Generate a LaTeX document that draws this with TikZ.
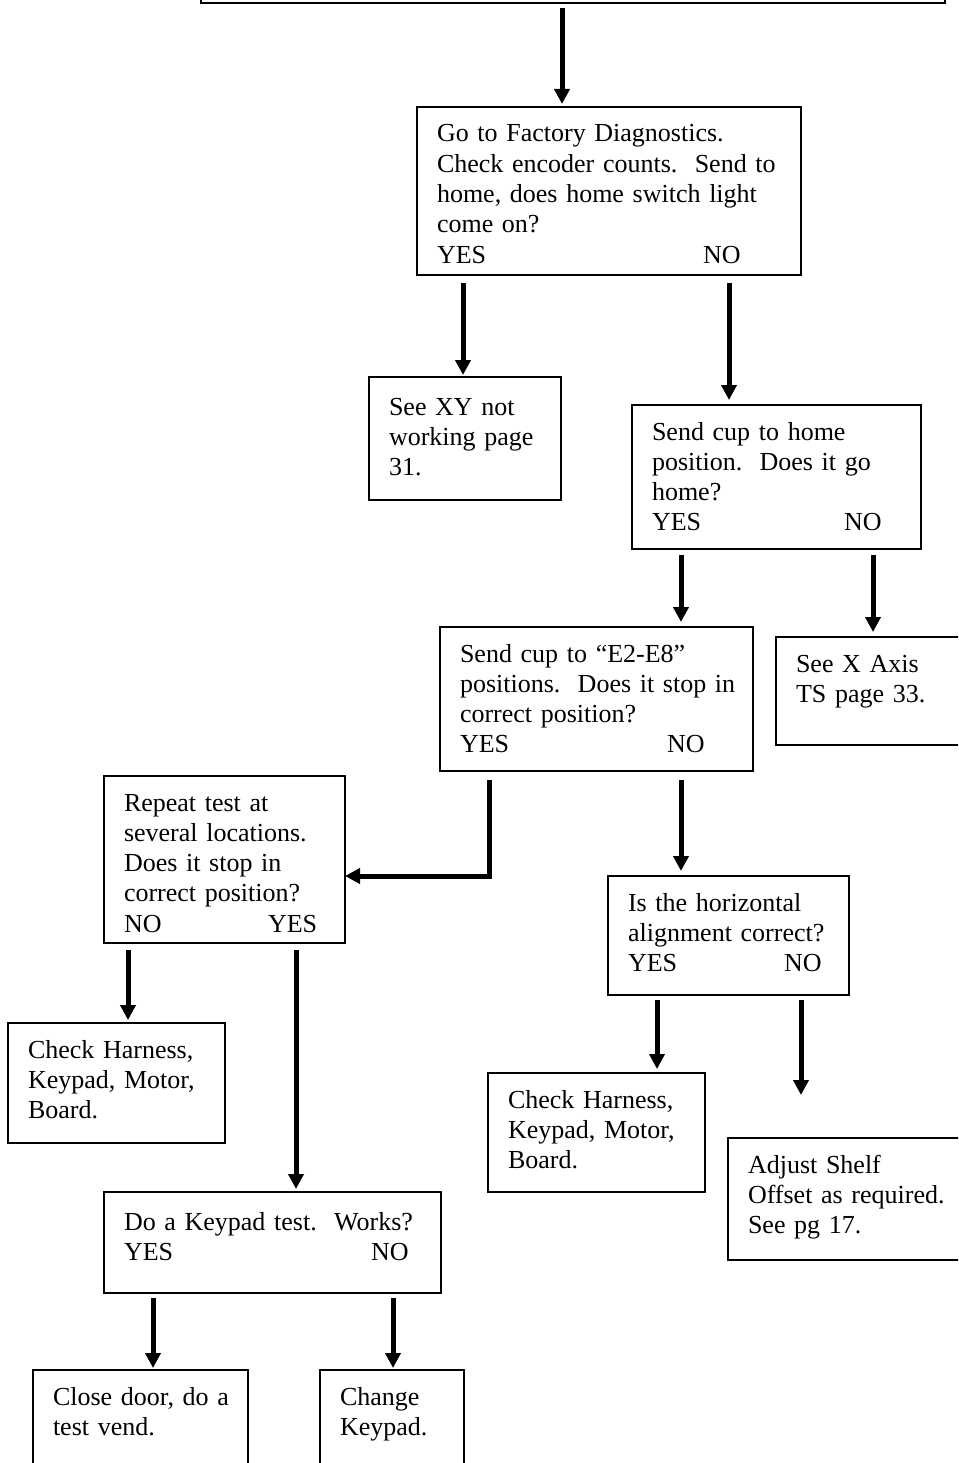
\documentclass[tikz,border=0pt]{standalone}
\usepackage{fontspec}
\setmainfont{Liberation Serif}
\usetikzlibrary{arrows.meta}
\newcommand{\boxfont}{\fontsize{26pt}{30.3pt}\selectfont}
\newcommand{\rows}[1]{\begin{tabular}[t]{@{}l@{}}#1\end{tabular}}
\tikzset{
  stepbox/.style={draw, line width=2pt, outer sep=0pt, anchor=north west,
    inner xsep=20pt, inner ysep=0pt, align=left, font=\boxfont, text height=35pt},
  flow/.style={line width=5pt, -{Triangle[length=15pt, width=15pt]}}
}
\begin{document}
\begin{tikzpicture}[x=1pt, y=-1pt]
\useasboundingbox (0,0) rectangle (958,1463);
\clip (0,0) rectangle (958,1463);

% top box, cut by the page edge
\node[stepbox, anchor=south west, text width=704pt, text height=0pt, text depth=40pt] (start) at (201,3) {};

% Factory diagnostics
\node[stepbox, text width=344pt, text depth=133pt] (diag) at (417,107)
  {\rows{Go to Factory Diagnostics.\\ Check encoder counts.\ \ Send to\\ home, does home switch light\\ come on?\\ \makebox[266pt][l]{YES}NO}};
\node[stepbox, text width=152pt, text height=38pt, text depth=85pt] (xy) at (369,377)
  {\rows{See XY not\\ working page\\ 31.}};
\node[stepbox, text width=249pt, text depth=109pt] (home) at (632,405)
  {\rows{Send cup to home\\ position.\ \ Does it go\\ home?\\ \makebox[192pt][l]{YES}NO}};

% E2-E8 positions
\node[stepbox, text width=273pt, text depth=109pt] (e2e8) at (440,627)
  {\rows{Send cup to ``E2-E8''\\ positions.\ \ Does it stop in\\ correct position?\\ \makebox[207pt][l]{YES}NO}};
\node[stepbox, text width=180pt, text depth=73pt] (xaxis) at (776,637)
  {\rows{See X Axis\\ TS page 33.}};
\node[stepbox, text width=201pt, text depth=132pt] (repeat) at (104,776)
  {\rows{Repeat test at\\ several locations.\\ Does it stop in\\ correct position?\\ \makebox[144pt][l]{NO}YES}};
\node[stepbox, text width=201pt, text depth=84pt] (horiz) at (608,876)
  {\rows{Is the horizontal\\ alignment correct?\\ \makebox[156pt][l]{YES}NO}};

% checks
\node[stepbox, text width=177pt, text depth=85pt] (harnl) at (8,1023)
  {\rows{Check Harness,\\ Keypad, Motor,\\ Board.}};
\node[stepbox, text width=177pt, text depth=84pt] (harnr) at (488,1073)
  {\rows{Check Harness,\\ Keypad, Motor,\\ Board.}};
\node[stepbox, text width=210pt, text depth=87pt] (shelf) at (728,1138)
  {\rows{Adjust Shelf\\ Offset as required.\\ See pg 17.}};

% keypad test
\node[stepbox, text width=297pt, text height=38pt, text depth=63pt] (keypad) at (104,1192)
  {\rows{Do a Keypad test.\ \ Works?\\ \makebox[247pt][l]{YES}NO}};
\node[stepbox, text width=175pt, text depth=85pt] (door) at (33,1370)
  {\rows{Close door, do a\\ test vend.}};
\node[stepbox, text width=104pt, text depth=85pt] (change) at (320,1370)
  {\rows{Change\\ Keypad.}};

% arrows
\draw[flow] ([xshift=361pt,yshift=-5pt]start.south west) -- ([xshift=145pt,yshift=3pt]diag.north west);
\draw[flow] ([xshift=46pt,yshift=-8pt]diag.south west) -- ([xshift=94pt,yshift=2pt]xy.north west);
\draw[flow] ([xshift=312pt,yshift=-8pt]diag.south west) -- ([xshift=97pt,yshift=5pt]home.north west);
\draw[flow] ([xshift=49pt,yshift=-6pt]home.south west) -- ([xshift=241pt,yshift=5pt]e2e8.north west);
\draw[flow] ([xshift=241pt,yshift=-6pt]home.south west) -- ([xshift=97pt,yshift=5pt]xaxis.north west);
\draw[flow] ([xshift=49pt,yshift=-9pt]e2e8.south west) |- ([yshift=-100pt]repeat.north east);
\draw[flow] ([xshift=241pt,yshift=-9pt]e2e8.south west) -- ([xshift=73pt,yshift=5pt]horiz.north west);
\draw[flow] ([xshift=24pt,yshift=-7pt]repeat.south west) -- ([xshift=120pt,yshift=3pt]harnl.north west);
\draw[flow] ([xshift=192pt,yshift=-7pt]repeat.south west) -- ([xshift=192pt,yshift=3pt]keypad.north west);
\draw[flow] ([xshift=49pt,yshift=-5pt]horiz.south west) -- ([xshift=169pt,yshift=4pt]harnr.north west);
\draw[flow] ([xshift=193pt,yshift=-5pt]horiz.south west) -- ([xshift=73pt,yshift=43pt]shelf.north west);
\draw[flow] ([xshift=49pt,yshift=-5pt]keypad.south west) -- ([xshift=120pt,yshift=2pt]door.north west);
\draw[flow] ([xshift=289pt,yshift=-5pt]keypad.south west) -- ([xshift=73pt,yshift=2pt]change.north west);
\end{tikzpicture}
\end{document}
